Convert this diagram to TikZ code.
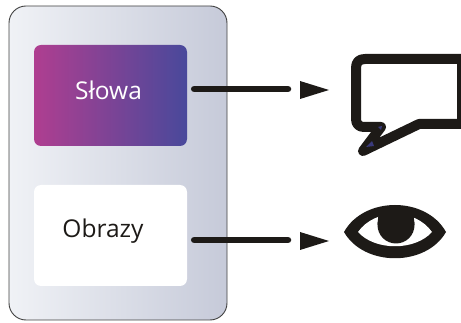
\documentclass[tikz,border=0pt]{standalone}
\usepackage{fontspec}
\setmainfont{Open Sans}
\usetikzlibrary{calc}
\definecolor{ink}{HTML}{1D1A17}
\definecolor{magentaend}{HTML}{AF3E90}
\definecolor{blueend}{HTML}{49499B}
\definecolor{panelL}{HTML}{F0F2F6}
\definecolor{panelR}{HTML}{C6CAD9}
\tikzset{
  boxlabel/.style={font=\fontsize{24.5}{28}\selectfont},
  link/.style={draw=ink,line width=6.5pt,line cap=round},
  tiptri/.style={fill=ink,draw=none},
}
\begin{document}
\begin{tikzpicture}[x=1pt,y=-1pt]
\useasboundingbox (0,0) rectangle (461,323);
% panel
\draw[draw=black!75,line width=0.9pt,rounded corners=17pt,left color=panelL,right color=panelR] (9,6) rectangle (227,320);
% boxes
\path[rounded corners=7pt,left color=magentaend,right color=blueend] (34,45) rectangle (187,146);
\path[rounded corners=7pt,fill=white] (34,185) rectangle (187,286);
\node[inner sep=0pt,minimum width=153pt,minimum height=101pt] (slowa) at (110.5,95.5) {};
\node[inner sep=0pt,minimum width=153pt,minimum height=101pt] (obrazy) at (110.5,235.5) {};
\node[boxlabel,text=white] (slowatext) at (108.5,90) {Słowa};
\node[boxlabel,text=ink] (obrazytext) at (103,231) {Obrazy};
% connectors
\coordinate (a1s) at ($(slowa.east)+(7,-6.5)$);
\coordinate (a1e) at (288,89);
\coordinate (a2s) at ($(obrazy.east)+(7,4.5)$);
\coordinate (a2e) at (288,240);
\draw[link] (a1s) -- (a1e);
\draw[link] (a2s) -- (a2e);
\fill[tiptri] (300,81) -- (329,90) -- (300,99) -- cycle;
\fill[tiptri] (300,232) -- (329,241) -- (300,250) -- cycle;
% speech bubble
\draw[draw=ink,fill=white,line width=10pt,line join=round]
  (365,59) -- (462,59) -- (462,124) -- (419,124) -- (363,151) -- (381,127) -- (364,127)
  .. controls (359,127) and (356,124) .. (356,119) -- (356,68)
  .. controls (356,62) and (359,59) .. (365,59) -- cycle;
\fill[blueend!80!black] (378,127) -- (382,126) -- (381,130) -- cycle;
\fill[blueend!80!black] (366,147) -- (372,141) -- (374,146) -- cycle;
% eye
\fill[ink] (344,232) .. controls (364,196) and (426,196) .. (446,232)
  .. controls (426,267) and (364,267) .. (344,232) -- cycle;
\fill[white] (358,232) .. controls (375,208) and (415,208) .. (432,232)
  .. controls (415,251) and (375,251) .. (358,232) -- cycle;
\fill[ink] (396,225) ellipse [x radius=18.5pt,y radius=18.5pt];
\fill[ink] (377.5,225) -- (379,208) -- (413,208) -- (414.5,225) -- cycle;
\end{tikzpicture}
\end{document}
